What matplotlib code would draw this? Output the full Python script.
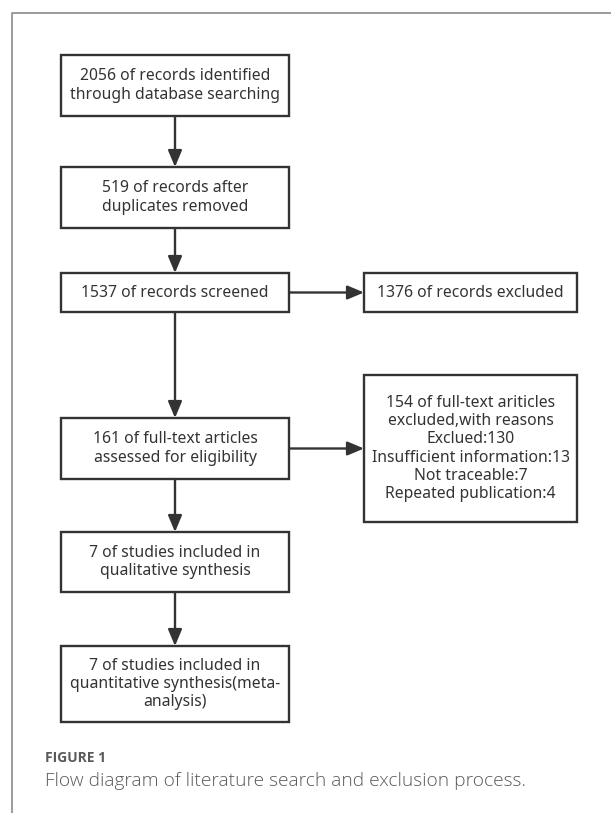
import matplotlib
matplotlib.use("Agg")
import matplotlib.pyplot as plt
from matplotlib.patches import Rectangle

# ---- content ----
main_steps = [
    "2056 of records identified\nthrough database searching",
    "519 of records after\nduplicates removed",
    "1537 of records screened",
    "161 of full-text articles\nassessed for eligibility",
    "7 of studies included in\nqualitative synthesis",
    "7 of studies included in\nquantitative synthesis(meta-\nanalysis)",
]
side_steps = [
    "1376 of records excluded",
    "154 of full-text ariticles\nexcluded,with reasons\nExclued:130\nInsufficient information:13\nNot traceable:7\nRepeated publication:4",
]
side_from = [2, 3]  # index of main step each side box branches from
fig_label = "FIGURE 1"
fig_caption = "Flow diagram of literature search and exclusion process."

# ---- layout (pixels) ----
W, H = 611, 813
main_x = (61, 289)
main_y = [(55, 116), (167, 228), (273, 312), (418, 479), (532, 592), (646, 722)]
side_x = (364, 577)
side_y = [(273, 312), (375, 522)]

box_color = "#333333"
text_color = "#333333"
font = ["Noto Sans", "DejaVu Sans"]
fs = 11.3

fig = plt.figure(figsize=(W / 100, H / 100), dpi=100)
ax = fig.add_axes([0, 0, 1, 1])
ax.set_xlim(0, W)
ax.set_ylim(H, 0)
ax.axis("off")

# outer frame (left and top edges)
ax.plot([12, 12, W + 5], [H + 5, 13, 13], color="#8a8a8a", lw=1.2, solid_capstyle="butt")

def box(x0, x1, y0, y1, txt):
    ax.add_patch(Rectangle((x0, y0), x1 - x0, y1 - y0, fill=False,
                           edgecolor=box_color, lw=1.7))
    ax.text((x0 + x1) / 2, (y0 + y1) / 2, txt, ha="center", va="center",
            color=text_color, fontsize=fs, family=font, linespacing=1.17)

def arrow(p0, p1):
    ax.annotate("", xy=p1, xytext=p0,
                arrowprops=dict(arrowstyle="-|>,head_length=1.0,head_width=0.42",
                                mutation_scale=10, color=box_color, lw=1.7,
                                shrinkA=0, shrinkB=0))

for (y0, y1), t in zip(main_y, main_steps):
    box(main_x[0], main_x[1], y0, y1, t)

cx = (main_x[0] + main_x[1]) / 2
for i in range(len(main_y) - 1):
    arrow((cx, main_y[i][1]), (cx, main_y[i + 1][0]))

for (y0, y1), t, src in zip(side_y, side_steps, side_from):
    box(side_x[0], side_x[1], y0, y1, t)
    yy = (main_y[src][0] + main_y[src][1]) / 2
    arrow((main_x[1], yy), (side_x[0], yy))

ax.text(45, 758, fig_label, ha="left", va="center", color="#5a5a5a",
        fontsize=10, fontweight="bold", family=["Open Sans", "DejaVu Sans"])
ax.text(45, 781, fig_caption, ha="left", va="center", color="#5a5a5a",
        fontsize=13.8, fontweight="light", family=["Open Sans", "DejaVu Sans"])

fig.savefig("out.png", dpi=100)
